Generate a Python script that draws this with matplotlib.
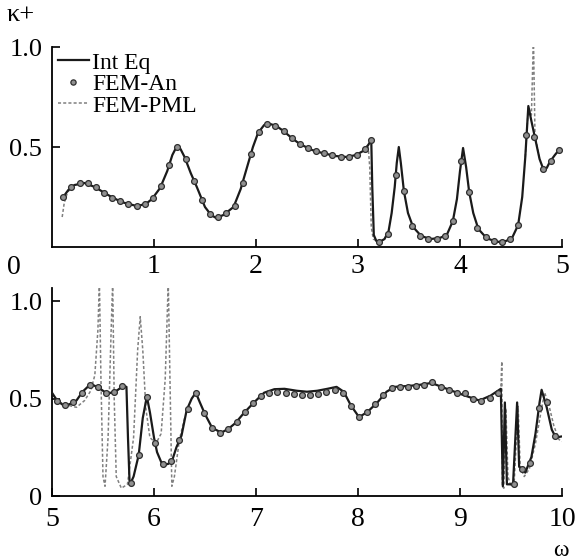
import numpy as np
import matplotlib.pyplot as plt

plt.rcParams['font.family'] = ['Liberation Serif', 'DejaVu Serif']

# ---- top panel (omega 0..5) ----
top_x = [0.11, 0.16, 0.22, 0.32, 0.42, 0.55, 0.68, 0.83, 0.92, 0.98, 1.06, 1.13, 1.18, 1.22,
         1.26, 1.30, 1.36, 1.42, 1.50, 1.56, 1.61, 1.68, 1.78, 1.85, 1.91, 1.97, 2.02, 2.08,
         2.14, 2.20, 2.27, 2.35, 2.43, 2.55, 2.65, 2.78, 2.89, 2.98, 3.05, 3.10, 3.13, 3.14,
         3.155, 3.18, 3.21, 3.26, 3.30, 3.33, 3.36, 3.38, 3.40, 3.42, 3.45, 3.49, 3.54, 3.62,
         3.71, 3.80, 3.87, 3.93, 3.97, 4.00, 4.03, 4.06, 4.09, 4.13, 4.18, 4.26, 4.36, 4.45,
         4.51, 4.57, 4.61, 4.64, 4.67, 4.70, 4.74, 4.78, 4.82, 4.85, 4.88, 4.93, 4.97]
top_y = [0.25, 0.285, 0.31, 0.32, 0.30, 0.26, 0.225, 0.205, 0.215, 0.24, 0.295, 0.38, 0.46, 0.50,
         0.49, 0.45, 0.37, 0.30, 0.20, 0.16, 0.145, 0.16, 0.20, 0.29, 0.395, 0.50, 0.57, 0.61,
         0.615, 0.605, 0.58, 0.545, 0.515, 0.485, 0.47, 0.455, 0.45, 0.46, 0.48, 0.51, 0.535, 0.30,
         0.06, 0.03, 0.025, 0.04, 0.08, 0.17, 0.30, 0.42, 0.50, 0.42, 0.28, 0.17, 0.10, 0.055,
         0.04, 0.045, 0.06, 0.13, 0.24, 0.38, 0.495, 0.40, 0.275, 0.17, 0.09, 0.045, 0.025, 0.03,
         0.045, 0.11, 0.25, 0.45, 0.705, 0.63, 0.535, 0.44, 0.385, 0.395, 0.425, 0.46, 0.485]

top_mx = [0.11, 0.19, 0.27, 0.35, 0.43, 0.51, 0.59, 0.67, 0.75, 0.83, 0.91, 0.99, 1.07, 1.15,
          1.23, 1.31, 1.39, 1.47, 1.55, 1.63, 1.71, 1.79, 1.87, 1.95, 2.03, 2.11, 2.19, 2.27,
          2.35, 2.43, 2.51, 2.59, 2.67, 2.75, 2.83, 2.91, 2.99, 3.07, 3.13, 3.21, 3.29, 3.37,
          3.45, 3.53, 3.61, 3.69, 3.77, 3.85, 3.93, 4.01, 4.09, 4.17, 4.25, 4.33, 4.41, 4.49,
          4.57, 4.65, 4.73, 4.81, 4.89, 4.97]
top_my = [0.25, 0.30, 0.318, 0.318, 0.298, 0.272, 0.247, 0.228, 0.213, 0.205, 0.213, 0.245, 0.305, 0.41,
          0.50, 0.44, 0.33, 0.235, 0.165, 0.148, 0.168, 0.205, 0.32, 0.465, 0.575, 0.615, 0.607, 0.58,
          0.545, 0.515, 0.495, 0.48, 0.468, 0.458, 0.452, 0.45, 0.462, 0.49, 0.535, 0.025, 0.065, 0.36,
          0.28, 0.105, 0.057, 0.042, 0.042, 0.055, 0.13, 0.43, 0.275, 0.095, 0.048, 0.028, 0.026, 0.04,
          0.11, 0.56, 0.55, 0.39, 0.43, 0.485]

# FEM-PML where it leaves the Int Eq curve
top_pml = [
    ([0.10, 0.12, 0.15, 0.19], [0.15, 0.22, 0.27, 0.30]),
    ([3.05, 3.10, 3.115, 3.13, 3.15, 3.20], [0.48, 0.50, 0.40, 0.10, 0.04, 0.025]),
    ([4.64, 4.67, 4.70, 4.72, 4.735, 4.75, 4.78], [0.45, 0.70, 0.66, 1.05, 0.56, 0.52, 0.44]),
]

# ---- bottom panel (omega 5..10) ----
bot_x = [5.00, 5.05, 5.10, 5.14, 5.19, 5.24, 5.30, 5.38, 5.46, 5.54, 5.62, 5.70, 5.73, 5.745,
         5.76, 5.77, 5.80, 5.85, 5.89, 5.93, 5.96, 6.00, 6.03, 6.07, 6.10, 6.14, 6.18, 6.22,
         6.27, 6.32, 6.37, 6.41, 6.45, 6.50, 6.57, 6.66, 6.73, 6.80, 6.88, 6.98, 7.08, 7.18,
         7.28, 7.40, 7.50, 7.60, 7.70, 7.79, 7.86, 7.93, 8.01, 8.09, 8.19, 8.28, 8.36, 8.50,
         8.60, 8.72, 8.82, 8.92, 9.05, 9.19, 9.30, 9.40, 9.42, 9.44, 9.46, 9.52, 9.56, 9.58,
         9.64, 9.70, 9.74, 9.78, 9.80, 9.85, 9.90, 9.94, 9.99]
bot_y = [0.53, 0.49, 0.47, 0.465, 0.475, 0.49, 0.535, 0.575, 0.555, 0.525, 0.535, 0.565, 0.56, 0.30,
         0.08, 0.065, 0.10, 0.21, 0.40, 0.51, 0.43, 0.30, 0.225, 0.175, 0.16, 0.165, 0.185, 0.25,
         0.31, 0.44, 0.50, 0.53, 0.48, 0.42, 0.35, 0.325, 0.345, 0.375, 0.425, 0.48, 0.53, 0.548,
         0.55, 0.54, 0.535, 0.54, 0.55, 0.56, 0.535, 0.465, 0.405, 0.43, 0.48, 0.535, 0.56, 0.565,
         0.57, 0.58, 0.56, 0.54, 0.515, 0.49, 0.515, 0.55, 0.05, 0.48, 0.06, 0.06, 0.48, 0.15,
         0.12, 0.20, 0.32, 0.48, 0.545, 0.455, 0.34, 0.30, 0.305]

bot_mx = [5.05, 5.13, 5.21, 5.29, 5.37, 5.45, 5.53, 5.61, 5.69, 5.77, 5.85, 5.93, 6.01, 6.09,
          6.17, 6.25, 6.33, 6.41, 6.49, 6.57, 6.65, 6.73, 6.81, 6.89, 6.97, 7.05, 7.13, 7.21,
          7.29, 7.37, 7.45, 7.53, 7.61, 7.69, 7.77, 7.85, 7.93, 8.01, 8.09, 8.17, 8.25, 8.33,
          8.41, 8.49, 8.57, 8.65, 8.73, 8.81, 8.89, 8.97, 9.05, 9.13, 9.21, 9.29, 9.37, 9.53,
          9.61, 9.69, 9.77, 9.85, 9.93]
bot_my = [0.49, 0.465, 0.48, 0.53, 0.572, 0.558, 0.528, 0.533, 0.562, 0.065, 0.21, 0.51, 0.27, 0.165,
          0.18, 0.285, 0.445, 0.53, 0.425, 0.35, 0.325, 0.345, 0.38, 0.43, 0.475, 0.515, 0.53, 0.535,
          0.53, 0.525, 0.52, 0.52, 0.525, 0.535, 0.545, 0.53, 0.46, 0.405, 0.43, 0.47, 0.52, 0.555,
          0.56, 0.56, 0.565, 0.57, 0.585, 0.56, 0.545, 0.53, 0.53, 0.50, 0.485, 0.505, 0.53, 0.06,
          0.14, 0.17, 0.45, 0.48, 0.31]

bot_pml = [
    ([5.00, 5.08, 5.16, 5.24, 5.32, 5.38, 5.42, 5.45, 5.465, 5.48, 5.50, 5.52, 5.55, 5.58,
      5.595, 5.61, 5.63, 5.68, 5.74, 5.80, 5.84, 5.865, 5.89, 5.92, 5.96, 6.02, 6.07, 6.11,
      6.14, 6.16, 6.175, 6.20, 6.25, 6.30],
     [0.52, 0.48, 0.465, 0.455, 0.49, 0.54, 0.62, 0.85, 1.10, 0.60, 0.10, 0.05, 0.30, 0.85,
      1.10, 0.50, 0.10, 0.04, 0.06, 0.30, 0.75, 0.92, 0.75, 0.45, 0.30, 0.27, 0.32, 0.60,
      1.10, 0.50, 0.05, 0.10, 0.29, 0.40]),
    ([9.38, 9.40, 9.41, 9.415, 9.43, 9.45, 9.47, 9.50, 9.53, 9.57, 9.59, 9.63, 9.68, 9.74,
      9.80, 9.83, 9.87, 9.92, 9.97, 10.0],
     [0.54, 0.55, 0.69, 0.05, 0.04, 0.45, 0.10, 0.05, 0.06, 0.46, 0.15, 0.10, 0.14, 0.27,
      0.45, 0.53, 0.47, 0.36, 0.29, 0.28]),
]

line_kw = dict(color='#1a1a1a', lw=1.6, zorder=3)
mark_kw = dict(ls='none', marker='o', ms=4.2, mfc='#909090', mec='#2e2e2e', mew=0.9, zorder=4)
pml_kw = dict(color='#808080', lw=1.1, ls=(0, (2, 1.4)), zorder=2)

fig = plt.figure(figsize=(5.75, 5.59), dpi=100)
ax1 = fig.add_axes([0.0904, 0.5581, 0.887, 0.3578])
ax2 = fig.add_axes([0.0904, 0.1127, 0.887, 0.372])

ax1.plot(top_x, top_y, label='Int Eq', **line_kw)
ax1.plot(top_mx, top_my, label='FEM-An', **mark_kw)
for i, (px, py) in enumerate(top_pml):
    ax1.plot(px, py, label='FEM-PML' if i == 0 else None, **pml_kw)

ax2.plot(bot_x, bot_y, **line_kw)
ax2.plot(bot_mx, bot_my, **mark_kw)
for px, py in bot_pml:
    ax2.plot(px, py, **pml_kw)

for ax in (ax1, ax2):
    ax.spines['top'].set_visible(False)
    ax.spines['right'].set_visible(False)
    ax.spines['left'].set_linewidth(1.3)
    ax.spines['bottom'].set_linewidth(1.3)
    ax.tick_params(direction='in', length=6, width=1.2)
    ax.tick_params(axis='y', labelsize=19, pad=7)

ax1.set_xlim(0, 5)
ax1.set_ylim(0, 1.0)
ax1.set_xticks([1, 2, 3, 4, 5])
ax1.set_yticks([0.5, 1.0])
ax1.set_yticklabels(['0.5', '1.0'])
ax1.tick_params(axis='x', labelsize=20, pad=5)
ax1.text(-0.075, -0.1, '0', transform=ax1.transAxes, ha='center', va='center', fontsize=20)

ax2.set_xlim(5, 10)
ax2.set_ylim(0, 1.067)
ax2.set_xticks([5, 6, 7, 8, 9, 10])
ax2.set_yticks([0, 0.5, 1.0])
ax2.set_yticklabels(['0', '0.5', '1.0'])
ax2.tick_params(axis='x', labelsize=20, pad=8)

leg = ax1.legend(loc='upper left', bbox_to_anchor=(0.012, 0.975), frameon=False, fontsize=17,
                 handlelength=1.3, handletextpad=0.15, labelspacing=0.0, borderpad=0.0,
                 borderaxespad=0.0, markerscale=0.9)

fig.text(0.012, 0.992, 'κ+', ha='left', va='top', fontsize=19)
fig.text(561 / 575, 1 - 550 / 559, 'ω', ha='center', va='center', fontsize=17)

fig.savefig('out.png', dpi=100)
